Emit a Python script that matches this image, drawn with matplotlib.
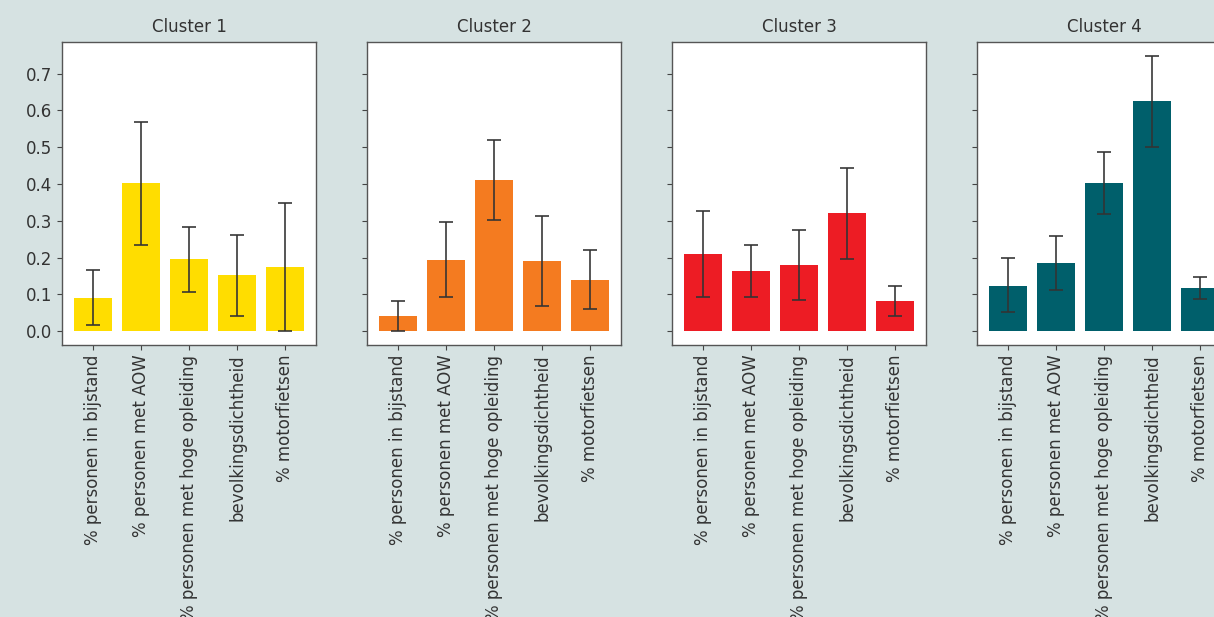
import matplotlib.pyplot as plt
import numpy as np

plt.rcParams['font.family'] = ['Liberation Sans Narrow', 'DejaVu Sans']

categories = ['% personen in bijstand', '% personen met AOW',
              '% personen met hoge opleiding', 'bevolkingsdichtheid',
              '% motorfietsen']
clusters = ['Cluster 1', 'Cluster 2', 'Cluster 3', 'Cluster 4']
colors = ['#FFDD00', '#F47B20', '#ED1C24', '#005F6B']

# bar heights per cluster
c1_means = [0.090, 0.403, 0.196, 0.152, 0.174]
c2_means = [0.041, 0.193, 0.411, 0.190, 0.139]
c3_means = [0.209, 0.163, 0.180, 0.321, 0.082]
c4_means = [0.124, 0.185, 0.403, 0.626, 0.117]

# confidence interval bounds (low, high)
c1_low = [0.017, 0.234, 0.106, 0.041, 0.000]
c1_high = [0.165, 0.568, 0.284, 0.262, 0.349]
c2_low = [0.000, 0.093, 0.303, 0.069, 0.060]
c2_high = [0.082, 0.296, 0.519, 0.313, 0.221]
c3_low = [0.092, 0.094, 0.084, 0.197, 0.040]
c3_high = [0.327, 0.234, 0.274, 0.444, 0.123]
c4_low = [0.052, 0.112, 0.319, 0.501, 0.088]
c4_high = [0.200, 0.260, 0.488, 0.749, 0.147]

means = [c1_means, c2_means, c3_means, c4_means]
lows = [c1_low, c2_low, c3_low, c4_low]
highs = [c1_high, c2_high, c3_high, c4_high]

bg = '#D6E2E2'
txt = '#333333'
W, H = 1214, 617
fig = plt.figure(figsize=(W / 100, H / 100), dpi=100, facecolor=bg)

axes = []
for i in range(4):
    left = (62 + 305 * i) / W
    ax = fig.add_axes([left, (H - 345) / H, 254 / W, 303 / H],
                      sharey=axes[0] if axes else None)
    axes.append(ax)
    x = np.arange(len(categories))
    m = np.array(means[i])
    err = np.array([m - np.array(lows[i]), np.array(highs[i]) - m])
    ax.bar(x, m, width=0.8, color=colors[i])
    ax.errorbar(x, m, yerr=err, fmt='none', ecolor='#333333',
                elinewidth=1.3, capsize=5, capthick=1.3, alpha=0.9)
    ax.set_xticks(x)
    ax.set_xticklabels(categories, rotation=90, fontsize=12, color=txt)
    ax.set_title(clusters[i], fontsize=12, color=txt, pad=7)
    for s in ax.spines.values():
        s.set_color('#555555')
        s.set_linewidth(1.0)
    ax.tick_params(colors='#444444', labelcolor=txt, labelsize=12)
    if i > 0:
        ax.tick_params(axis='y', labelleft=False)

axes[0].set_ylim(-0.0375, 0.786)
axes[0].set_xlim(-0.64, 4.64)
axes[0].set_yticks(np.arange(0, 0.71, 0.1))
axes[0].set_yticklabels([f'{v:.1f}' for v in np.arange(0, 0.71, 0.1)])

fig.savefig('out.png', dpi=100, facecolor=bg)
